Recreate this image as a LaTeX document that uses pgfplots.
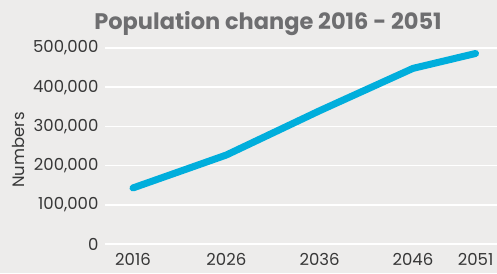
\documentclass[border=0pt]{standalone}
\usepackage{fontspec}
\setmainfont{Poppins}
\usepackage{pgfplots}
\pgfplotsset{compat=1.18}
\definecolor{bg}{RGB}{237,236,235}
\definecolor{linec}{RGB}{0,174,220}
\definecolor{titlec}{RGB}{110,110,112}
\definecolor{textc}{RGB}{55,55,55}
\begin{document}
\begin{tikzpicture}[x=1pt,y=1pt]
\fill[bg] (0,0) rectangle (497,273);
\useasboundingbox (0,0) rectangle (497,273);
\node[font=\fontsize{22.5}{26}\selectfont\bfseries, text=titlec] at (268,249) {Population change 2016 - 2051};
\node[font=\fontsize{16.5}{18}\selectfont, text=textc, rotate=90] at (18,123) {Numbers};
\begin{axis}[
  at={(105pt,29pt)}, anchor=south west,
  scale only axis, width=392pt, height=196pt,
  xmin=-0.30, xmax=3.90, ymin=0, ymax=500000,
  xtick={0,1,2,3,3.67},
  xticklabels={2016,2026,2036,2046,2051},
  ytick={0,100000,200000,300000,400000,500000},
  scaled y ticks=false,
  /pgf/number format/assume math mode=true,
  /pgf/number format/.cd, fixed, 1000 sep={,}, /pgfplots/.cd,
  tick label style={font=\fontsize{16.5}{18}\selectfont, text=textc},
  xticklabel style={yshift=-6pt},
  yticklabel style={xshift=-3pt},
  major tick length=0pt,
  axis line style={draw=none},
  ymajorgrids, grid style={white, line width=1.5pt},
  clip=false,
]
\addplot[linec, line width=7pt, line cap=round, line join=round] coordinates {
  (0,143000) (1,227000) (2,340000) (3,448000) (3.67,486000)
};
\end{axis}
\end{tikzpicture}
\end{document}
